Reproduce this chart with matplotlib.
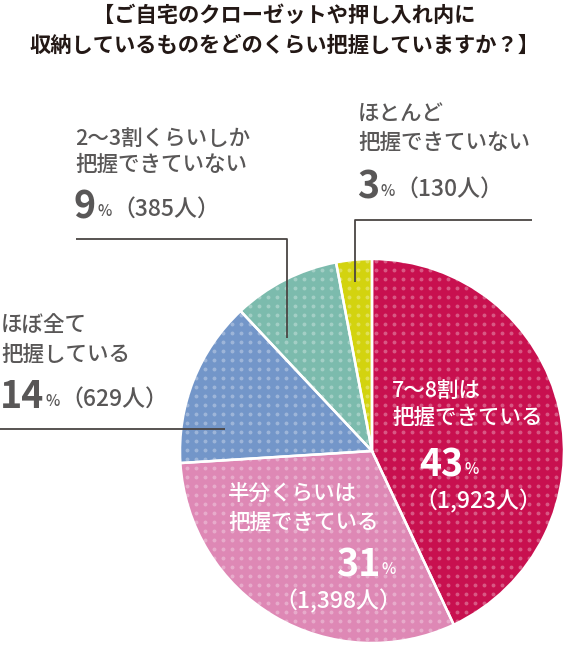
import numpy as np
import matplotlib.pyplot as plt
from matplotlib.patches import Circle

plt.rcParams['font.family'] = ['Noto Sans CJK JP', 'DejaVu Sans']

# data
title_lines = ['【ご自宅のクローゼットや押し入れ内に',
               '収納しているものをどのくらい把握していますか？】']
categories = ['7～8割は\n把握できている', '半分くらいは\n把握できている',
              'ほぼ全て\n把握している', '2～3割くらいしか\n把握できていない',
              'ほとんど\n把握できていない']
shares = [43, 31, 14, 9, 3]
counts = ['1,923', '1,398', '629', '385', '130']
colors = ['#C8104F', '#DE88B5', '#7396C9', '#7CBBAD', '#D3D30F']

W, H = 569, 650
fig = plt.figure(figsize=(W / 100, H / 100), dpi=100)
ax = fig.add_axes([0, 0, 1, 1])

cx, cy, r = 372, H - 451, 192
ax.pie(shares, colors=colors, startangle=90, counterclock=False,
       center=(cx, cy), radius=r, wedgeprops=dict(linewidth=0))

# dotted texture over the pie
gx, gy = np.meshgrid(np.arange(385 - 9 * 25, W, 9), np.arange(306 - 9 * 6, H, 9))
dots = ax.scatter(gx.ravel(), H - gy.ravel(), s=8, color='white', alpha=0.3,
                  linewidths=0, zorder=2)
dots.set_clip_path(Circle((cx, cy), r, transform=ax.transData))

# white separators
ax.pie(shares, colors=['none'] * 5, startangle=90, counterclock=False,
       center=(cx, cy), radius=r,
       wedgeprops=dict(edgecolor='white', linewidth=1.8, fill=False, zorder=3))

ax.set_xlim(0, W)
ax.set_ylim(0, H)
ax.axis('off')

# leader lines
line_kw = dict(color='#4A4543', lw=1.3, zorder=4, solid_capstyle='butt')
ax.plot([355, 355, 532], [H - 282, H - 220, H - 220], **line_kw)
ax.plot([76, 287, 287], [H - 239, H - 239, H - 338], **line_kw)
ax.plot([0, 225], [H - 429, H - 429], **line_kw)

# title
for s, y in zip(title_lines, [15, 45]):
    ax.text(W / 2, H - y, s, ha='center', va='center', fontsize=15.3,
            fontweight='bold', color='#231815')

renderer = fig.canvas.get_renderer()


def put(x, y, s, size, color, weight='medium'):
    t = ax.text(x, H - y, s, ha='left', va='center', fontsize=size,
                color=color, fontweight=weight, zorder=5)
    return t.get_window_extent(renderer).x1


# label layout: x, first line y, second line y, number x, number y, count x, count y
layout = {
    0: (392, 391, 418, 419, 465, 414, 501),
    1: (228, 495, 523, 336, 565, 274, 601),
    2: (1, 326, 355, 0, 397, None, 399),
    3: (75, 139, 165, 74, 207, None, 209),
    4: (358, 114, 143, 357, 187, None, 189),
}

for i, (x, y1, y2, nx, ny, kx, ky) in layout.items():
    col = 'white' if i < 2 else '#595757'
    l1, l2 = categories[i].split('\n')
    put(x, y1, l1, 15.5, col)
    put(x, y2, l2, 15.5, col)
    xe = put(nx, ny, str(shares[i]), 27, col, 'bold')
    xe = put(xe + 1, ny + 5, '%', 11, col)
    if kx is None:
        kx = xe + 1
    put(kx, ky, '（' + counts[i] + '人）', 16.5, col)

fig.savefig('out.png', dpi=100)
